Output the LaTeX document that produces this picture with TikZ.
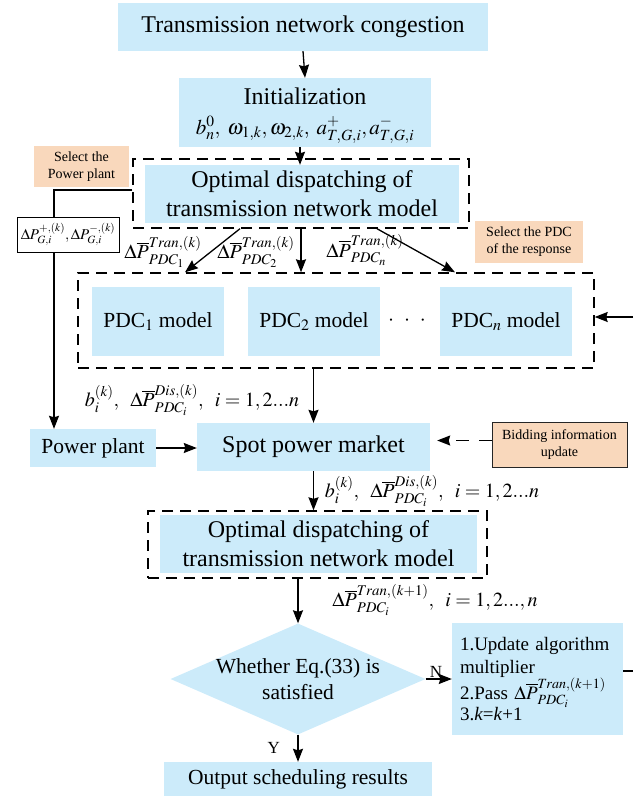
\documentclass[tikz,border=0pt]{standalone}
\usepackage{mathptmx}
\usepackage{fontspec}
\setmainfont{Liberation Serif}
\usetikzlibrary{arrows.meta,shapes.geometric}
\definecolor{boxblue}{RGB}{204,235,250}
\definecolor{peach}{RGB}{249,216,188}
\begin{document}
\begin{tikzpicture}[x=1pt,y=-1pt,
  bluebox/.style={fill=boxblue, inner sep=0pt, align=center},
  peachbox/.style={fill=peach, inner sep=0pt, align=center, font=\fontsize{14}{17}\selectfont},
  bigtxt/.style={font=\fontsize{24}{29}\selectfont},
  midtxt/.style={font=\fontsize{21.5}{26}\selectfont},
  mathlab/.style={inner sep=0pt, font=\fontsize{20}{24}\selectfont},
  frame/.style={draw, line width=1.4pt, dash pattern=on 11pt off 7pt, inner sep=0pt},
  wire/.style={line width=1.3pt},
  conn/.style={line width=1.3pt, -{Stealth[length=13pt,width=10pt,inset=1.5pt]}},
  dashconn/.style={conn, dash pattern=on 13pt off 10pt}]
\useasboundingbox (0,0) rectangle (633,796);

% top of the flow
\node[bluebox, bigtxt, minimum width=370pt, minimum height=48pt] (top) at (303,27) {Transmission network congestion};
\node[bluebox, minimum width=252pt, minimum height=69pt] (init) at (305,112.5) {};
\node[inner sep=0pt, font=\fontsize{24}{28}\selectfont] (inittitle) at (305,96) {Initialization};
\node[inner sep=0pt, font=\fontsize{21}{25}\selectfont] (initvars) at (305,130)
  {$b_n^0,\;\omega_{1,k},\omega_{2,k},\;a^{+}_{T,G,i},a^{-}_{T,G,i}$};

% transmission network dispatch
\node[frame, minimum width=336pt, minimum height=69pt] (f1) at (301,193.5) {};
\node[bluebox, bigtxt, minimum width=314pt, minimum height=58pt] (opt1) at (302,194)
  {Optimal dispatching of\\transmission network model};

% power plant selection
\node[peachbox, minimum width=95pt, minimum height=41pt] (selpp) at (81.5,166.5) {Select the\\Power plant};
\node[draw, line width=1pt, fill=white, inner sep=0pt, minimum width=102pt, minimum height=35pt,
      font=\fontsize{15}{18}\selectfont] (dp) at (68,234.5) {$\Delta P^{+,(k)}_{G,i},\Delta P^{-,(k)}_{G,i}$};
\node[peachbox, minimum width=108pt, minimum height=42pt] (selpdc) at (529,242) {Select the PDC\\of the response};

% PDC models
\node[frame, minimum width=516pt, minimum height=95pt] (f2) at (336,320.5) {};
\node[bluebox, midtxt, minimum width=132pt, minimum height=69pt] (pdc1) at (158,321.5) {PDC$_1$ model};
\node[bluebox, midtxt, minimum width=132pt, minimum height=69pt] (pdc2) at (314,321.5) {PDC$_2$ model};
\node[inner sep=0pt, font=\fontsize{21.5}{26}\selectfont] (dots) at (407,321) {${\cdot}\hspace{10pt}{\cdot}\hspace{10pt}{\cdot}$};
\node[bluebox, midtxt, minimum width=132pt, minimum height=69pt] (pdcn) at (506,321.5) {PDC$_n$ model};

% market
\node[bluebox, midtxt, minimum width=126pt, minimum height=38pt] (pp) at (93,448) {Power plant};
\node[bluebox, bigtxt, minimum width=233pt, minimum height=48pt] (spot) at (313.5,447) {Spot power market};
\node[draw=black!85, line width=1pt, peachbox, minimum width=135pt, minimum height=45pt] (bid) at (559.5,444.5) {Bidding information\\update};

% second dispatch
\node[frame, minimum width=339pt, minimum height=67pt] (f3) at (317.5,544.5) {};
\node[bluebox, bigtxt, minimum width=317pt, minimum height=58pt] (opt2) at (318.5,544)
  {Optimal dispatching of\\transmission network model};

% convergence check
\node[diamond, fill=boxblue, inner sep=0pt, minimum width=255pt, minimum height=111pt] (chk) at (298,679) {};
\node[midtxt, align=center, inner sep=0pt] (chktxt) at (chk) {Whether Eq.(33) is\\satisfied};
\node[bluebox, font=\fontsize{19}{23}\selectfont, align=left, text width=155pt,
      minimum width=171pt, minimum height=112pt] (upd) at (537.5,679)
  {1.Update algorithm\\multiplier\\2.Pass $\Delta\overline{P}^{Tran,(k+1)}_{PDC_i}$\\[-2pt]3.\textit{k}=\textit{k}+1};
\node[bluebox, midtxt, minimum width=268pt, minimum height=34pt] (out) at (298,779) {Output scheduling results};

% quantity labels
\node[mathlab] (l1) at (163,252) {$\Delta\overline{P}^{Tran,(k)}_{PDC_1}$};
\node[mathlab] (l2) at (256,252) {$\Delta\overline{P}^{Tran,(k)}_{PDC_2}$};
\node[mathlab] (l3) at (365,250) {$\Delta\overline{P}^{Tran,(k)}_{PDC_n}$};
\node[mathlab] (lb1) at (192,400) {$b_i^{(k)},\;\;\Delta\overline{P}^{Dis,(k)}_{PDC_i},\;\;i=1,2...n$};
\node[mathlab] (lb2) at (432,491) {$b_i^{(k)},\;\;\Delta\overline{P}^{Dis,(k)}_{PDC_i},\;\;i=1,2...n$};
\node[mathlab] (lt) at (435,600) {$\Delta\overline{P}^{Tran,(k+1)}_{PDC_i},\;\;i=1,2...,n$};

% connectors
\coordinate (ja) at (54,190);
\coordinate (rin) at (633,317);
\coordinate (rout) at (633,671);
\draw[conn] (top.south) -- (init.north);
\draw[conn] (init.south -| 300,0) -- (opt1.north -| 300,0);
\draw[conn] ([xshift=-61pt]f1.south) -- ([xshift=-151pt]f2.north);
\draw[conn] (f1.south) -- (f1.south |- f2.north);
\draw[conn] ([xshift=76pt]f1.south) -- ([xshift=119pt]f2.north);
\draw[wire] (f1.west |- ja) -- (ja) -- (ja |- dp.north);
\draw[conn] (ja |- dp.south) -- (ja |- pp.north);
\draw[conn] (rin) -- (rin -| f2.east);
\draw[conn] (spot.north |- f2.south) -- (spot.north);
\draw[conn] (pp.east) -- (pp.east -| spot.west);
\draw[dashconn] ([yshift=4pt]bid.west) -- ([yshift=4pt,xshift=7pt]bid.west -| spot.east);
\draw[conn] (spot.south) -- (spot.south |- f3.north);
\draw[conn] (chk.north |- f3.south) -- (chk.north);
\draw[conn] (chk.east) -- node[pos=0.1, above right, inner sep=1pt, font=\fontsize{17}{20}\selectfont] {N} (chk.east -| upd.west);
\draw[conn] (chk.south) -- node[left=14pt, font=\fontsize{17}{20}\selectfont] {Y} (out.north);
\draw[wire] (upd.east |- rout) -- (rout);
\end{tikzpicture}
\end{document}
